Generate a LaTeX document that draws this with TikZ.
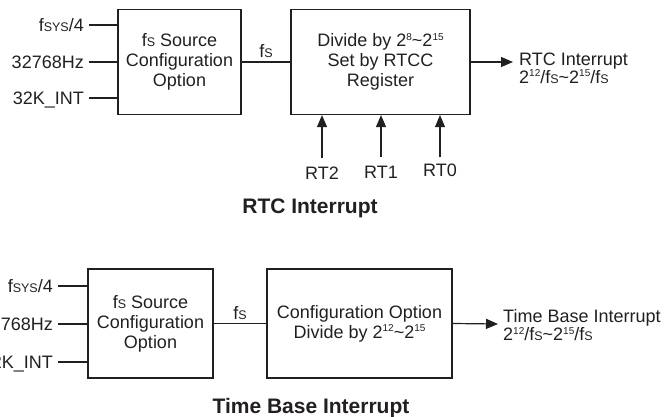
\documentclass[tikz,border=0pt]{standalone}
\usepackage{fontspec}
\setmainfont{Liberation Sans}
\usetikzlibrary{arrows.meta}
\definecolor{ink}{HTML}{231F20}
\newcommand\smS[1]{{\fontsize{12.5}{12.5}\selectfont #1}}
\newcommand\supr[1]{\raisebox{6.5pt}{\fontsize{10}{10}\selectfont #1}}
\tikzset{
  blk/.style={draw=ink, line width=1.2pt, inner sep=0pt, align=center, text=ink,
              font=\fontsize{18}{20}\selectfont},
  lbl/.style={inner sep=0pt, text=ink, font=\fontsize{18}{20}\selectfont,
              text height=13pt, text depth=0pt},
  outtxt/.style={inner sep=0pt, text=ink, align=left, font=\fontsize{18}{17}\selectfont},
  wire/.style={draw=ink, line width=1.2pt},
  arr/.style={draw=ink, line width=1.2pt, -{Triangle[length=12pt,width=10pt]}},
  ttl/.style={inner sep=0pt, text=ink, font=\bfseries\fontsize{21}{24}\selectfont},
}
\begin{document}
\begin{tikzpicture}[x=1pt,y=-1pt]
\useasboundingbox (0,0) rectangle (666,417);
\clip (0,0) rectangle (666,417);

% ---------- RTC Interrupt ----------
\node[blk, minimum width=123pt, minimum height=105pt] (src1) at (179.5,62)
  {f\smS{S} Source\\Configuration\\Option};
\node[lbl, anchor=east] (a1) at (84,25) {f\smS{SYS}/4};
\node[lbl, anchor=east] (a2) at (84,62) {32768Hz};
\node[lbl, anchor=east] (a3) at (84,98) {32K\_INT};
\draw[wire] ([xshift=5pt]a1.east) -- (a1.east -| src1.west);
\draw[wire] ([xshift=5pt]a2.east) -- (a2.east -| src1.west);
\draw[wire] ([xshift=5pt]a3.east) -- (a3.east -| src1.west);

\node[blk, minimum width=179pt, minimum height=105pt] (div1) at (380.5,62)
  {Divide by 2\supr{8}\textasciitilde 2\supr{15}\\Set by RTCC\\Register};
\draw[wire] (src1.east) -- node[lbl, above=3.5pt] (fs1) {f\smS{S}} (div1.west);

\coordinate (o1) at (513,62);
\draw[arr] (div1.east) -- (o1);
\node[outtxt, anchor=west] (out1) at (519,68)
  {RTC Interrupt\\2\supr{12}/f\smS{S}\textasciitilde 2\supr{15}/f\smS{S}};

\node[lbl] (rt2) at (322,173) {RT2};
\node[lbl] (rt1) at (381,172) {RT1};
\node[lbl] (rt0) at (440,170) {RT0};
\draw[arr] ([yshift=8pt]rt2.north) -- (rt2.north |- div1.south);
\draw[arr] ([yshift=8pt]rt1.north) -- (rt1.north |- div1.south);
\draw[arr] ([yshift=6pt]rt0.north) -- (rt0.north |- div1.south);

\node[ttl, anchor=base] (t1) at (310,213) {RTC Interrupt};

% ---------- Time Base Interrupt ----------
\node[blk, minimum width=125pt, minimum height=109pt] (src2) at (150.5,323.5)
  {f\smS{S} Source\\Configuration\\Option};
\node[lbl, anchor=east] (b1) at (53,286) {f\smS{SYS}/4};
\node[lbl, anchor=east] (b2) at (53,324) {32768Hz};
\node[lbl, anchor=east] (b3) at (53,362) {32K\_INT};
\draw[wire] ([xshift=5pt]b1.east) -- (b1.east -| src2.west);
\draw[wire] ([xshift=5pt]b2.east) -- (b2.east -| src2.west);
\draw[wire] ([xshift=5pt]b3.east) -- (b3.east -| src2.west);

\node[blk, minimum width=185pt, minimum height=109pt] (div2) at (359.5,323.5)
  {Configuration Option\\Divide by 2\supr{12}\textasciitilde 2\supr{15}};
\draw[wire] (src2.east) -- node[lbl, above=3.5pt] (fs2) {f\smS{S}} (div2.west);

\coordinate (o2) at (498,324);
\draw[arr] (div2.east) -- (o2);
\node[outtxt, anchor=west] (out2) at (503,325)
  {Time Base Interrupt\\2\supr{12}/f\smS{S}\textasciitilde 2\supr{15}/f\smS{S}};

\node[ttl, anchor=base] (t2) at (311,413) {Time Base Interrupt};
\end{tikzpicture}
\end{document}
